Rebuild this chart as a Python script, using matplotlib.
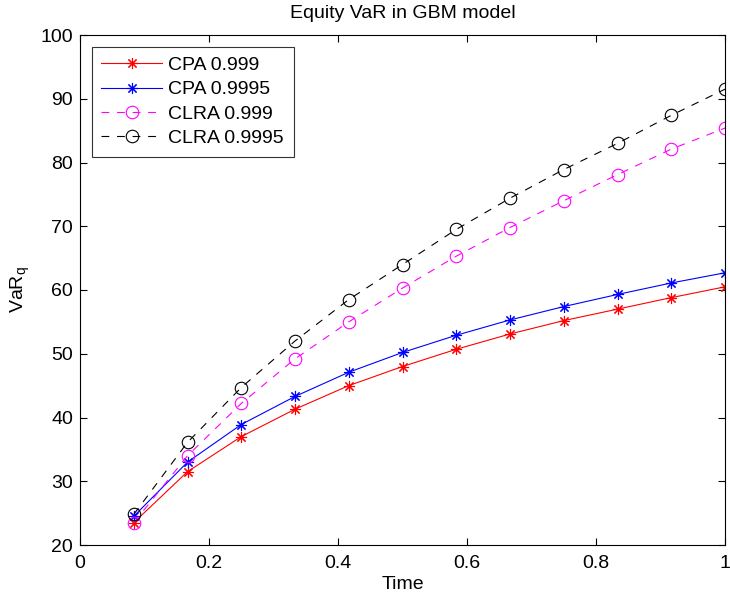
import matplotlib
matplotlib.use("Agg")
import matplotlib.pyplot as plt
import numpy as np

plt.rcParams['font.family'] = ['Liberation Sans', 'DejaVu Sans']
plt.rcParams['mathtext.fontset'] = 'custom'
plt.rcParams['mathtext.rm'] = 'Liberation Sans'

time = [i / 12 for i in range(1, 13)]
cpa_999 = [23.5, 31.5, 37.0, 41.3, 45.0, 48.0, 50.7, 53.1, 55.2, 57.0, 58.8, 60.5]
cpa_9995 = [24.5, 33.0, 38.9, 43.3, 47.1, 50.2, 52.9, 55.3, 57.4, 59.3, 61.1, 62.7]
clra_999 = [23.5, 34.0, 42.2, 49.2, 55.0, 60.3, 65.3, 69.8, 74.0, 78.1, 82.1, 85.4]
clra_9995 = [24.8, 36.1, 44.7, 52.0, 58.5, 64.0, 69.5, 74.4, 78.9, 83.0, 87.4, 91.5]

xticks = [0, 0.2, 0.4, 0.6, 0.8, 1]
xticklabels = ['0', '0.2', '0.4', '0.6', '0.8', '1']
yticks = [20, 30, 40, 50, 60, 70, 80, 90, 100]

fig = plt.figure(figsize=(7.3, 5.97), dpi=100)
ax = fig.add_axes([80/730, 52/597, 645/730, 510/597])

star = (8, 2, 0)
dash = (0, (7, 7))
ax.plot(time, cpa_999, color='red', lw=0.8, marker=star, ms=8, mew=0.8, label='CPA 0.999')
ax.plot(time, cpa_9995, color='blue', lw=0.8, marker=star, ms=8, mew=0.8, label='CPA 0.9995')
ax.plot(time, clra_999, color='magenta', lw=0.8, ls=dash, marker='o', ms=9, mfc='none', mew=0.8, label='CLRA 0.999')
ax.plot(time, clra_9995, color='black', lw=0.8, ls=dash, marker='o', ms=9, mfc='none', mew=0.8, label='CLRA 0.9995')

ax.set_xlim(0, 1)
ax.set_ylim(20, 100)
ax.set_xticks(xticks)
ax.set_xticklabels(xticklabels)
ax.set_yticks(yticks)
ax.tick_params(direction='in', top=True, right=True, labelsize=14, length=5, width=0.8)
ax.tick_params(axis='y', pad=5)
ax.tick_params(axis='x', pad=7)
for s in ax.spines.values():
    s.set_linewidth(0.8)
ax.set_xlabel('Time', fontsize=14, labelpad=3)
ax.set_ylabel('VaR$_\\mathregular{q}$', fontsize=14, labelpad=6)
ax.set_title('Equity VaR in GBM model', fontsize=14, pad=12)

leg = ax.legend(loc='upper left', fontsize=14, frameon=True, fancybox=False,
                edgecolor='black', handlelength=3.1, borderpad=0.5, labelspacing=0.35,
                handletextpad=0.35, borderaxespad=0.6)
leg.get_frame().set_linewidth(0.8)

fig.savefig('out.png', dpi=100)
